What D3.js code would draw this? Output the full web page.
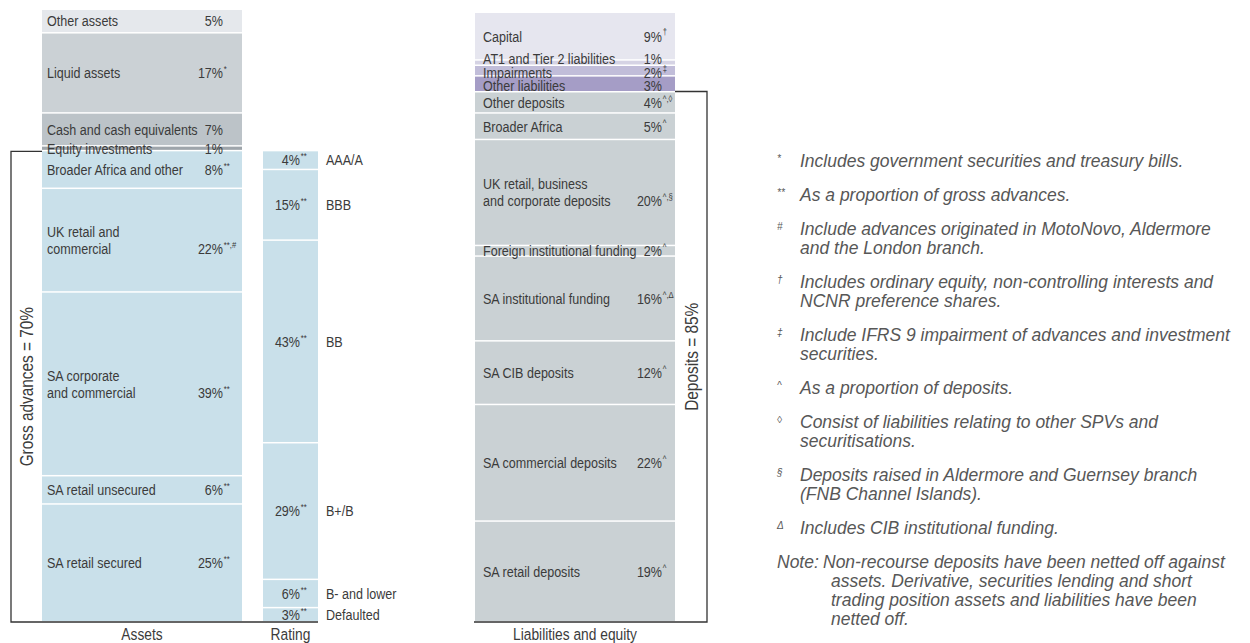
<!DOCTYPE html>
<html>
<head>
<meta charset="utf-8">
<script src="https://cdn.jsdelivr.net/npm/d3@7"></script>
<style>
  body { margin: 0; background: #fff; }
  svg { display: block; }
  text { font-family: "Liberation Sans", Arial, sans-serif; fill: #3b3b3b; }
  .notes text { font-style: italic; fill: #575757; }
</style>
</head>
<body>
<svg id="chart" width="1250" height="643"></svg>
<script>
// ---- data -------------------------------------------------------------
// Assets: non-advance items, % of total assets
const assetTopLabels = ["Other assets", "Liquid assets", "Cash and cash equivalents", "Equity investments"];
const assetTopValues = [5, 17, 7, 1];
const assetTopMarks  = ["", "*", "", ""];

// Gross advances breakdown, % of gross advances
const advanceLabels = ["Broader Africa and other", "UK retail and\ncommercial", "SA corporate\nand commercial", "SA retail unsecured", "SA retail secured"];
const advanceValues = [8, 22, 39, 6, 25];
const advanceMarks  = ["**", "**,#", "**", "**", "**"];
const grossAdvancesShare = 70;

// Rating profile of gross advances
const ratingLabels = ["AAA/A", "BBB", "BB", "B+/B", "B- and lower", "Defaulted"];
const ratingValues = [4, 15, 43, 29, 6, 3];
const ratingMarks  = ["**", "**", "**", "**", "**", "**"];

// Liabilities and equity: non-deposit items
const liabTopLabels = ["Capital", "AT1 and Tier 2 liabilities", "Impairments", "Other liabilities"];
const liabTopValues = [9, 1, 2, 3];
const liabTopMarks  = ["†", "", "‡", ""];

// Deposits breakdown, % of deposits
const depositLabels = ["Other deposits", "Broader Africa", "UK retail, business\nand corporate deposits", "Foreign institutional funding",
                       "SA institutional funding", "SA CIB deposits", "SA commercial deposits", "SA retail deposits"];
const depositValues = [4, 5, 20, 2, 16, 12, 22, 19];
const depositMarks  = ["^,◊", "^", "^,§", "^", "^,Δ", "^", "^", "^"];
const depositsShare = 85;

const columnTitles = ["Assets", "Rating", "Liabilities and equity"];

// Footnotes
const noteMarks = ["*", "**", "#", "†", "‡", "^", "◊", "§", "Δ"];
const noteTexts = [
  ["Includes government securities and treasury bills."],
  ["As a proportion of gross advances."],
  ["Include advances originated in MotoNovo, Aldermore", "and the London branch."],
  ["Includes ordinary equity, non-controlling interests and", "NCNR preference shares."],
  ["Include IFRS 9 impairment of advances and investment", "securities."],
  ["As a proportion of deposits."],
  ["Consist of liabilities relating to other SPVs and", "securitisations."],
  ["Deposits raised in Aldermore and Guernsey branch", "(FNB Channel Islands)."],
  ["Includes CIB institutional funding."]
];
const noteLead = "Note:";
const noteBody = ["Non-recourse deposits have been netted off against", "assets. Derivative, securities lending and short",
                  "trading position assets and liabilities have been", "netted off."];

// ---- layout -----------------------------------------------------------
const svg = d3.select("#chart");
const ink = "#333";
const SX = 0.81;               // horizontal condensing for the chart lettering
const colAssets = { x0: 42, x1: 242 };
const colRating = { x0: 263, x1: 318 };
const colLiab   = { x0: 475, x1: 675 };
const baseY = 622;

// condensed text helper
function ntext(g, x, y, str, size, anchor, extra) {
  return g.append("text")
    .attr("transform", `translate(${x},${y})${extra || ""} scale(${SX},1)`)
    .attr("dy", "0.35em").attr("font-size", size)
    .attr("text-anchor", anchor || "start").text(str);
}

const assetsTotal = d3.sum(assetTopValues) + d3.sum(advanceValues);
const liabTotal   = d3.sum(liabTopValues) + d3.sum(depositValues);
const yA = d3.scaleLinear().domain([0, assetsTotal]).range([10, baseY + 0.5]);
const yL = d3.scaleLinear().domain([0, liabTotal]).range([13, baseY + 0.5]);

function stack(labels, values, marks, offset, fills) {
  const ends = d3.cumsum(values);
  return values.map((v, i) => ({
    label: labels[i], value: v, mark: marks[i],
    start: offset + ends[i] - v, end: offset + ends[i],
    fill: typeof fills === "string" ? fills : fills[i]
  }));
}

const advBlue = "#c9e0ea";
const depGrey = "#cad1d4";
const assetSegs = stack(assetTopLabels, assetTopValues, assetTopMarks, 0, ["#e5e8ec", "#cbd1d5", "#bcc3c8", "#9ea5ab"])
  .concat(stack(advanceLabels, advanceValues, advanceMarks, d3.sum(assetTopValues), advBlue));
const ratingSegs = stack(ratingLabels, ratingValues, ratingMarks, d3.sum(assetTopValues), advBlue);
const liabSegs = stack(liabTopLabels, liabTopValues, liabTopMarks, 0, ["#e6e6ef", "#d5d3e4", "#c1bdd9", "#a59dc6"])
  .concat(stack(depositLabels, depositValues, depositMarks, d3.sum(liabTopValues), depGrey));

const GAP = 1.5;
function drawBars(segs, col, y) {
  svg.append("g").selectAll("rect").data(segs).join("rect")
    .attr("x", col.x0).attr("width", col.x1 - col.x0)
    .attr("y", d => y(d.start))
    .attr("height", d => Math.max(0.8, y(d.end) - y(d.start) - GAP))
    .attr("fill", d => d.fill);
}
drawBars(assetSegs, colAssets, yA);
drawBars(ratingSegs, colRating, yA);
drawBars(liabSegs, colLiab, yL);

// label anchor rows: centred in their block, nudged apart where blocks are thin
const FS = 15.5, LH = 17, MINGAP = 13.5;
function labelRows(segs, y) {
  const rows = segs.map(d => {
    const n = d.label.split("\n").length;
    return { d, n, c: (y(d.start) + y(d.end) - GAP) / 2 };
  });
  for (let it = 0; it < 60; it++) {
    for (let i = 0; i < rows.length - 1; i++) {
      const a = rows[i], b = rows[i + 1];
      const need = (a.n - 1) * LH / 2 + (b.n - 1) * LH / 2 + MINGAP;
      const gap = b.c - a.c;
      if (gap < need) { const m = (need - gap) / 2; a.c -= m; b.c += m; }
    }
  }
  return rows;
}

function drawLabels(segs, y, labelX, valueX) {
  const g = svg.append("g");
  labelRows(segs, y).forEach(({ d, n, c }) => {
    const lines = d.label.split("\n");
    const top = c - (n - 1) * LH / 2;
    lines.forEach((ln, k) => ntext(g, labelX, top + k * LH, ln, FS));
    const vy = top + (n - 1) * LH;
    ntext(g, valueX, vy, d.value + "%", FS, "end");
    if (d.mark) ntext(g, valueX + 0.8, vy - 4, d.mark, 9.5);
  });
}
drawLabels(assetSegs, yA, colAssets.x0 + 5, 223);
drawLabels(liabSegs, yL, colLiab.x0 + 8, 662);

// rating: value inside the bar, grade name to the right
{
  const g = svg.append("g");
  ratingSegs.forEach(d => {
    const cy = (yA(d.start) + yA(d.end) - GAP) / 2;
    ntext(g, 300, cy, d.value + "%", FS, "end");
    ntext(g, 300.8, cy - 4, d.mark, 9.5);
    ntext(g, 326, cy, d.label, FS);
  });
}

// brackets
const bx = 11;
const advTop = yA(d3.sum(assetTopValues));
svg.append("path")
  .attr("d", `M${colAssets.x0},${advTop}H${bx}V${baseY}H${colRating.x1}`)
  .attr("fill", "none").attr("stroke", ink).attr("stroke-width", 1.3);
ntext(svg, bx + 15, (advTop + baseY) / 2, `Gross advances = ${grossAdvancesShare}%`, 19, "middle", " rotate(-90)");

const dx = 707;
const depTop = yL(d3.sum(liabTopValues)) - 1;
svg.append("path")
  .attr("d", `M${colLiab.x1},${depTop}H${dx}V${baseY}H${colLiab.x0 - 1}`)
  .attr("fill", "none").attr("stroke", ink).attr("stroke-width", 1.3);
ntext(svg, dx - 16, (depTop + baseY) / 2, `Deposits = ${depositsShare}%`, 19, "middle", " rotate(-90)");

// column titles
const titleX = [(colAssets.x0 + colAssets.x1) / 2, (colRating.x0 + colRating.x1) / 2, (colLiab.x0 + colLiab.x1) / 2];
{
  const g = svg.append("g");
  columnTitles.forEach((t, i) => ntext(g, titleX[i], 634.5, t, 17, "middle"));
}

// footnotes
{
  const g = svg.append("g").attr("class", "notes").attr("font-size", 17.5);
  const markX = 777, textX = 800, lineH = 19, noteH = 34;
  let yy = 161;
  noteTexts.forEach((lines, i) => {
    g.append("text").attr("x", markX).attr("y", yy - 3).attr("dy", "0.35em").attr("font-size", 10)
      .attr("fill", "#888").text(noteMarks[i]);
    lines.forEach((ln, k) => g.append("text").attr("x", textX).attr("y", yy + k * lineH).attr("dy", "0.35em").text(ln));
    yy += (lines.length - 1) * lineH + noteH;
  });
  g.append("text").attr("x", 777).attr("y", yy).attr("dy", "0.35em").text(noteLead);
  noteBody.forEach((ln, k) => g.append("text").attr("x", k === 0 ? 823 : 831).attr("y", yy + k * lineH).attr("dy", "0.35em").text(ln));
}
</script>
</body>
</html>
